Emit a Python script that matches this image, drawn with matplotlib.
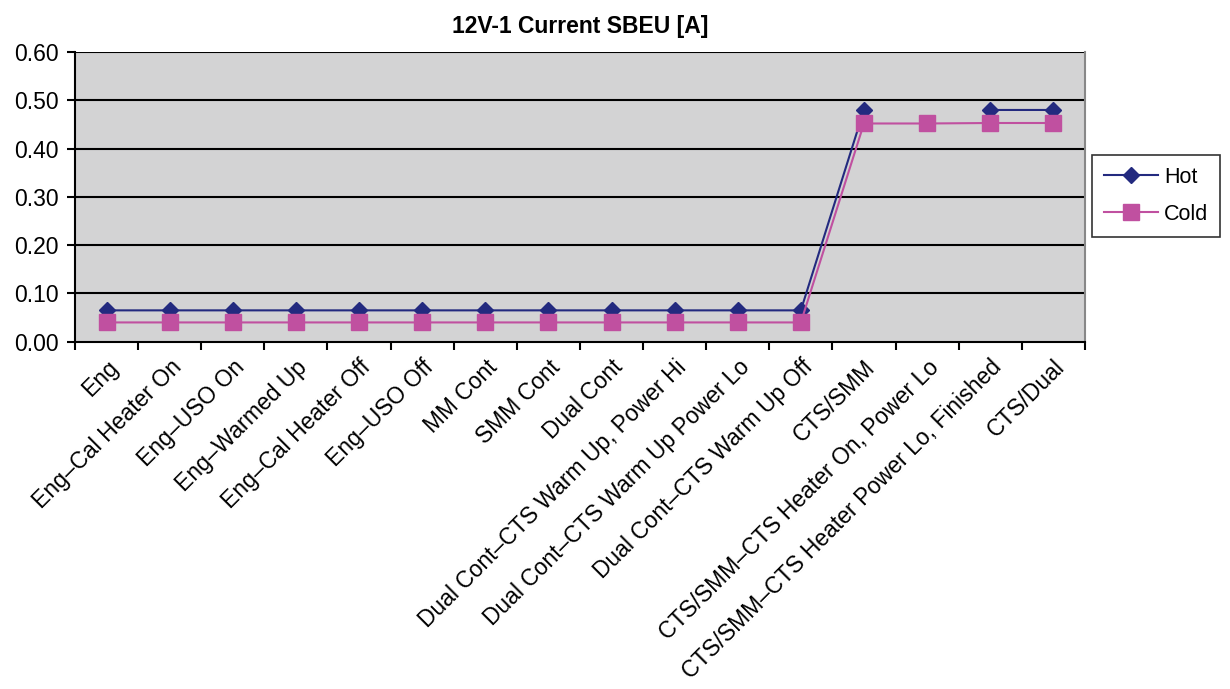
import numpy as np
import matplotlib
matplotlib.use('Agg')
import matplotlib.pyplot as plt

plt.rcParams['font.family'] = ['Liberation Sans', 'DejaVu Sans']

categories = ['Eng', 'Eng\u2013Cal Heater On', 'Eng\u2013USO On', 'Eng\u2013Warmed Up',
              'Eng\u2013Cal Heater Off', 'Eng\u2013USO Off', 'MM Cont', 'SMM Cont', 'Dual Cont',
              'Dual Cont\u2013CTS Warm Up, Power Hi', 'Dual Cont\u2013CTS Warm Up Power Lo',
              'Dual Cont\u2013CTS Warm Up Off', 'CTS/SMM', 'CTS/SMM\u2013CTS Heater On, Power Lo',
              'CTS/SMM\u2013CTS Heater Power Lo, Finished', 'CTS/Dual']
hot = [0.065, 0.065, 0.065, 0.065, 0.065, 0.065, 0.065, 0.065, 0.065, 0.065, 0.065, 0.065,
       0.48, np.nan, 0.48, 0.48]
cold = [0.04, 0.04, 0.04, 0.04, 0.04, 0.04, 0.04, 0.04, 0.04, 0.04, 0.04, 0.04,
        0.452, 0.452, 0.453, 0.453]
yticks = [0.0, 0.1, 0.2, 0.3, 0.4, 0.5, 0.6]

fig = plt.figure(figsize=(12.3, 6.89), dpi=100)
ax = fig.add_axes([0.061, 0.504, 0.821, 0.4205])
ax.set_facecolor('#d3d3d4')

x = np.arange(len(categories))
ax.plot(x, hot, color='#232a7f', marker='D', markersize=8, lw=1.5, label='Hot', zorder=3)
ax.plot(x, cold, color='#c050a0', marker='s', markersize=11, lw=1.5, label='Cold', zorder=3)

ax.set_xlim(-0.5, len(categories) - 0.5)
ax.set_ylim(0, 0.6)
ax.set_yticks(yticks)
ax.set_yticklabels(['%.2f' % v for v in yticks], fontsize=16.5)
for v in yticks[1:]:
    ax.axhline(v, color='black', lw=1.5, zorder=1)

# category labels centered, tick marks between categories
ax.set_xticks(np.arange(-0.5, len(categories)), minor=False)
ax.set_xticklabels([])
ax.set_xticks(x, minor=True)
ax.set_xticklabels(categories, minor=True, rotation=45, ha='right', rotation_mode='anchor', fontsize=16.5)
ax.tick_params(axis='x', which='minor', length=0, pad=10)
ax.tick_params(axis='x', which='major', length=6, width=1.5, direction='out')
ax.tick_params(axis='y', length=6, width=1.5, direction='out', pad=6)

ax.spines['left'].set_linewidth(1.5)
ax.spines['bottom'].set_linewidth(1.5)
ax.spines['top'].set_visible(False)
ax.spines['right'].set_color('#888888')
ax.spines['right'].set_linewidth(1.5)

ax.set_title('12V-1 Current SBEU [A]', fontsize=16.5, fontweight='bold', pad=14)

leg = ax.legend(loc='upper left', bbox_to_anchor=(1.007, 0.645), fontsize=15.5, frameon=True,
                fancybox=False, edgecolor='black', handlelength=2.5, borderpad=0.55,
                labelspacing=0.75, handletextpad=0.3, borderaxespad=0)
leg.get_frame().set_linewidth(1.2)

fig.savefig('out.png', dpi=100)
